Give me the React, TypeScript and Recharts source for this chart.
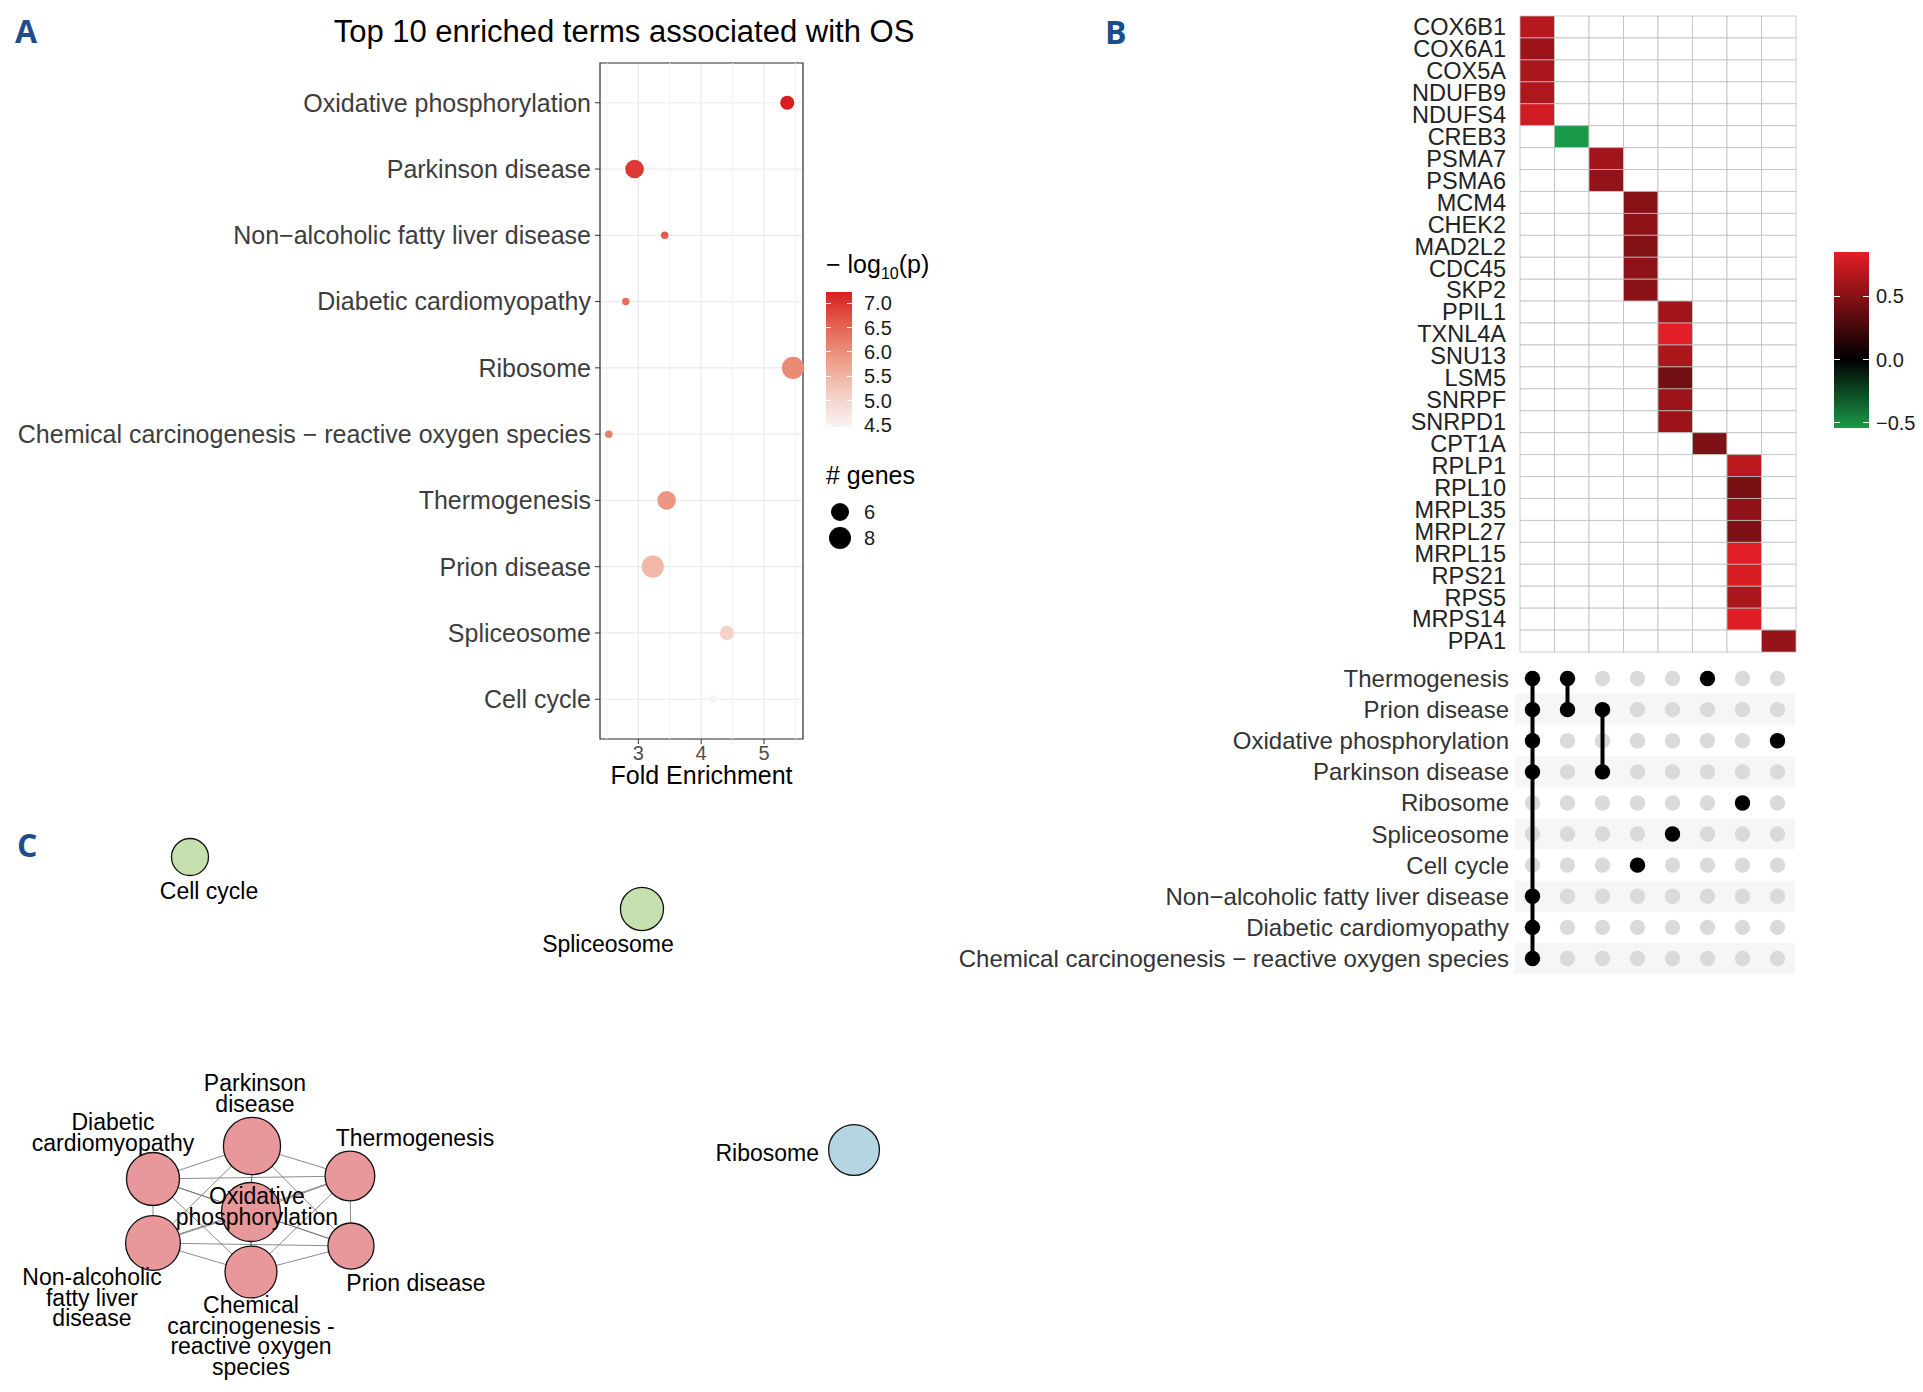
import React from 'react'
import {
  ScatterChart,
  Scatter,
  BarChart,
  Bar,
  Cell,
  XAxis,
  YAxis,
  ZAxis,
  CartesianGrid,
  ReferenceLine,
  ReferenceArea,
} from 'recharts'

const FONT = '"Liberation Sans", Arial, Helvetica, sans-serif'

// ---------- A: enrichment dot plot ----------
const terms = [
  'Oxidative phosphorylation',
  'Parkinson disease',
  'Non−alcoholic fatty liver disease',
  'Diabetic cardiomyopathy',
  'Ribosome',
  'Chemical carcinogenesis − reactive oxygen species',
  'Thermogenesis',
  'Prion disease',
  'Spliceosome',
  'Cell cycle',
]
const foldEnrichment = [5.37, 2.94, 3.42, 2.8, 5.46, 2.53, 3.45, 3.23, 4.41, 4.19]
const geneCount = [6, 7, 5, 5, 8, 5, 7, 8, 6, 5]
const negLog10P = [7.23, 6.95, 6.6, 6.35, 6.05, 6.2, 5.9, 5.45, 5.1, 4.46]
const foldTicks = [3, 4, 5]
const pLegendTicks = [7.0, 6.5, 6.0, 5.5, 5.0, 4.5]
const sizeLegend = [6, 8]

// ---------- B: gene heatmap + set matrix ----------
const genes = [
  'COX6B1', 'COX6A1', 'COX5A', 'NDUFB9', 'NDUFS4', 'CREB3', 'PSMA7', 'PSMA6',
  'MCM4', 'CHEK2', 'MAD2L2', 'CDC45', 'SKP2', 'PPIL1', 'TXNL4A', 'SNU13',
  'LSM5', 'SNRPF', 'SNRPD1', 'CPT1A', 'RPLP1', 'RPL10', 'MRPL35', 'MRPL27',
  'MRPL15', 'RPS21', 'RPS5', 'MRPS14', 'PPA1',
]
const geneSet = [0, 0, 0, 0, 0, 1, 2, 2, 3, 3, 3, 3, 3, 4, 4, 4, 4, 4, 4, 5, 6, 6, 6, 6, 6, 6, 6, 6, 7]
const geneValue = [
  0.68, 0.58, 0.63, 0.65, 0.77, -0.54, 0.6, 0.55, 0.5, 0.53, 0.48, 0.53, 0.52,
  0.6, 0.85, 0.64, 0.42, 0.58, 0.58, 0.47, 0.7, 0.45, 0.53, 0.47, 0.84, 0.8,
  0.63, 0.83, 0.56,
]
const heatTicks = [0.5, 0.0, -0.5]

const upsetTerms = [
  'Thermogenesis',
  'Prion disease',
  'Oxidative phosphorylation',
  'Parkinson disease',
  'Ribosome',
  'Spliceosome',
  'Cell cycle',
  'Non−alcoholic fatty liver disease',
  'Diabetic cardiomyopathy',
  'Chemical carcinogenesis − reactive oxygen species',
]
// terms containing each gene set (same column order as heatmap)
const geneSetMembers = [
  ['Thermogenesis', 'Prion disease', 'Oxidative phosphorylation', 'Parkinson disease',
    'Non−alcoholic fatty liver disease', 'Diabetic cardiomyopathy',
    'Chemical carcinogenesis − reactive oxygen species'],
  ['Thermogenesis', 'Prion disease'],
  ['Prion disease', 'Parkinson disease'],
  ['Cell cycle'],
  ['Spliceosome'],
  ['Thermogenesis'],
  ['Ribosome'],
  ['Oxidative phosphorylation'],
]

// ---------- C: term network ----------
const networkTerms = [
  'Cell cycle',
  'Spliceosome',
  'Ribosome',
  'Parkinson disease',
  'Diabetic cardiomyopathy',
  'Thermogenesis',
  'Oxidative phosphorylation',
  'Non−alcoholic fatty liver disease',
  'Prion disease',
  'Chemical carcinogenesis − reactive oxygen species',
]
const networkLabels = [
  'Cell cycle',
  'Spliceosome',
  'Ribosome',
  'Parkinson\ndisease',
  'Diabetic\ncardiomyopathy',
  'Thermogenesis',
  'Oxidative\nphosphorylation',
  'Non-alcoholic\nfatty liver\ndisease',
  'Prion disease',
  'Chemical\ncarcinogenesis -\nreactive oxygen\nspecies',
]
const layoutX = [0.2065, 0.6978, 0.9283, 0.2739, 0.1663, 0.3804, 0.2728, 0.1663, 0.3815, 0.2728]
const layoutY = [0.0647, 0.1556, 0.5769, 0.5699, 0.6276, 0.6224, 0.6853, 0.7395, 0.7448, 0.7902]
const networkCluster = [1, 1, 2, 0, 0, 0, 0, 0, 0, 0]

// ---------- helpers ----------
const hexRgb = (h: string) => [1, 3, 5].map((i) => parseInt(h.slice(i, i + 2), 16))
const mix = (a: string, b: string, t: number) => {
  const A = hexRgb(a)
  const B = hexRgb(b)
  const k = Math.max(0, Math.min(1, t))
  return `rgb(${A.map((x, i) => Math.round(x + (B[i] - x) * k)).join(',')})`
}
// approximates ggplot's Lab interpolation from near-white to red
const pStops = ['#f7f3f3', '#f4cdc3', '#ec9c87', '#e2634f', '#d81e1e']
const ramp = (stops: string[], t: number) => {
  const k = Math.max(0, Math.min(1, t)) * (stops.length - 1)
  const i = Math.min(stops.length - 2, Math.floor(k))
  return mix(stops[i], stops[i + 1], k - i)
}
const pMin = Math.min(...negLog10P)
const pMax = Math.max(...negLog10P)
const pColor = (v: number) => ramp(pStops, (v - pMin) / (pMax - pMin))
const hMin = Math.min(...geneValue)
const hMax = Math.max(...geneValue)
const heatColor = (v: number) => (v >= 0 ? mix('#000000', '#e41e26', v / hMax) : mix('#000000', '#1a9a48', v / hMin))
const clusterFill = ['#e8989a', '#c5dfae', '#b6d5e2']

const enrichData = terms.map((term, i) => ({
  term,
  row: i,
  fold: foldEnrichment[i],
  genes: geneCount[i],
  logp: negLog10P[i],
}))

const heatRows = genes.map((gene) => {
  const r: any = { gene }
  geneSetMembers.forEach((_, k) => (r['c' + k] = 1))
  return r
})

const upsetGrid = upsetTerms.flatMap((_, r) => geneSetMembers.map((__, c) => ({ row: r, set: c })))
const upsetCols = geneSetMembers.map((m, c) =>
  m.map((t) => ({ row: upsetTerms.indexOf(t), set: c })).sort((a, b) => a.row - b.row)
)

const nodes = networkTerms.map((term, i) => ({
  term,
  x: layoutX[i],
  y: layoutY[i],
  logp: negLog10P[terms.indexOf(term)],
  cluster: networkCluster[i],
  label: networkLabels[i],
}))
const edges: [number, number][] = []
networkTerms.forEach((a, i) =>
  networkTerms.forEach((b, j) => {
    if (j > i && geneSetMembers.some((m) => m.includes(a) && m.includes(b))) edges.push([i, j])
  })
)

// label offset (px) from node centre, text anchor
const labelPlacement: Record<string, [number, number, string]> = {
  'Cell cycle': [19, 34, 'middle'],
  Spliceosome: [-34, 35, 'middle'],
  Ribosome: [-35, 3, 'end'],
  'Parkinson disease': [3, -63, 'middle'],
  'Diabetic cardiomyopathy': [-40, -57, 'middle'],
  Thermogenesis: [65, -38, 'middle'],
  'Oxidative phosphorylation': [6, -16, 'middle'],
  'Non−alcoholic fatty liver disease': [-61, 34, 'middle'],
  'Prion disease': [65, 37, 'middle'],
  'Chemical carcinogenesis − reactive oxygen species': [0, 33, 'middle'],
}

const dot = (r: number, fill: string) => (p: any) => <circle cx={p.cx} cy={p.cy} r={r} fill={fill} />
const none = () => <g />

const NodeLabel = (p: any) => {
  const [dx, dy, anchor] = labelPlacement[p.payload.term]
  const lines = p.payload.label.split('\n')
  return (
    <text x={p.cx + dx} y={p.cy + dy} textAnchor={anchor as any} fontSize={23} fontFamily={FONT} fill="#000" dominantBaseline="central">
      {lines.map((l: string, k: number) => (
        <tspan key={k} x={p.cx + dx} dy={k === 0 ? 0 : 20.7}>
          {l}
        </tspan>
      ))}
    </text>
  )
}

const letter = (t: string, left: number, top: number) => (
  <div style={{ position: 'absolute', left, top, fontSize: 32, fontWeight: 700, color: '#1d4c89', fontFamily: '"Open Sans", sans-serif', lineHeight: '32px' }}>
    {t}
  </div>
)

const abs = (left: number, top: number): React.CSSProperties => ({ position: 'absolute', left, top })

export default function App() {
  const pBarTop = 292
  const pBarH = 135
  const hBarTop = 252
  const hBarH = 176
  return (
    <div style={{ position: 'absolute', left: 0, top: 0, width: 1923, height: 1392, background: '#fff', fontFamily: FONT, overflow: 'hidden' }}>
      {letter('A', 15, 15)}
      {letter('B', 1105, 16)}
      {letter('C', 17, 829)}

      <div style={{ ...abs(324, 14), width: 600, textAlign: 'center', fontSize: 31, lineHeight: '36px', color: '#000' }}>
        Top 10 enriched terms associated with OS
      </div>

      {/* A: dot plot */}
      <div style={abs(0, 0)}>
        <ScatterChart width={900} height={800} margin={{ top: 63, right: 97, bottom: 5, left: 0 }}>
          <CartesianGrid stroke="#ebebeb" strokeWidth={1.2} />
          {[2.5, 3.5, 4.5, 5.5].map((v) => (
            <ReferenceLine key={v} x={v} stroke="#f3f3f3" strokeWidth={1} />
          ))}
          <XAxis
            type="number"
            dataKey="fold"
            domain={[2.39, 5.62]}
            ticks={foldTicks}
            height={56}
            tickSize={5}
            tickLine={{ stroke: '#333' }}
            axisLine={false}
            tick={{ fontSize: 20, fill: '#4d4d4d', fontFamily: FONT }}
            label={{ value: 'Fold Enrichment', position: 'insideBottom', offset: 11, fill: '#000', fontSize: 25, fontFamily: FONT }}
          />
          <YAxis
            type="number"
            dataKey="row"
            domain={[-0.6, 9.6]}
            reversed
            ticks={terms.map((_, i) => i)}
            interval={0}
            tickFormatter={(i: number) => terms[i]}
            width={600}
            tickSize={5}
            tickMargin={4}
            tickLine={{ stroke: '#333' }}
            axisLine={false}
            tick={{ fontSize: 25, fill: '#3d3d3d', fontFamily: FONT }}
          />
          <ZAxis type="number" dataKey="genes" domain={[4.7, 8]} range={[10, 385]} />
          <ReferenceArea x1={2.39} x2={5.62} y1={-0.6} y2={9.6} fill="none" fillOpacity={0} stroke="#333" strokeWidth={1.2} ifOverflow="visible" />
          <Scatter data={enrichData} isAnimationActive={false}>
            {enrichData.map((d, i) => (
              <Cell key={i} fill={pColor(d.logp)} />
            ))}
          </Scatter>
        </ScatterChart>
      </div>

      {/* A: legends */}
      <div style={{ ...abs(826, 248), fontSize: 25, lineHeight: '32px', color: '#000' }}>
        − log<sub style={{ fontSize: 16 }}>10</sub>(p)
      </div>
      <div
        style={{
          ...abs(826, pBarTop),
          width: 26,
          height: pBarH,
          background: `linear-gradient(to top, ${pStops.join(', ')})`,
        }}
      />
      {pLegendTicks.map((v) => {
        const y = pBarTop + ((pMax - v) / (pMax - pMin)) * pBarH
        return (
          <React.Fragment key={v}>
            <div style={{ ...abs(826, y - 0.5), width: 5, height: 1, background: '#fff' }} />
            <div style={{ ...abs(847, y - 0.5), width: 5, height: 1, background: '#fff' }} />
            <div style={{ ...abs(864, y - 12), fontSize: 20, lineHeight: '24px', color: '#1a1a1a' }}>{v.toFixed(1)}</div>
          </React.Fragment>
        )
      })}
      <div style={{ ...abs(826, 459), fontSize: 25, lineHeight: '32px', color: '#000' }}># genes</div>
      {sizeLegend.map((g, k) => {
        const r = g === 6 ? 9 : 11
        const y = 512 + k * 26
        return (
          <React.Fragment key={g}>
            <div style={{ ...abs(840 - r, y - r), width: 2 * r, height: 2 * r, borderRadius: '50%', background: '#000' }} />
            <div style={{ ...abs(864, y - 12), fontSize: 20, lineHeight: '24px', color: '#1a1a1a' }}>{g}</div>
          </React.Fragment>
        )
      })}

      {/* B: heatmap */}
      <div style={abs(1300, 0)}>
        <BarChart layout="vertical" width={520} height={670} data={heatRows} margin={{ top: 16, right: 24, bottom: 18, left: 0 }} barCategoryGap={0} barGap={0}>
          <XAxis type="number" domain={[0, geneSetMembers.length]} hide />
          <YAxis
            type="category"
            dataKey="gene"
            width={220}
            tickLine={false}
            axisLine={false}
            tickSize={6}
            tickMargin={8}
            interval={0}
            tick={{ fontSize: 23.5, fill: '#222', fontFamily: FONT }}
          />
          {geneSetMembers.map((_, k) => (
            <Bar key={k} dataKey={'c' + k} stackId="h" isAnimationActive={false} stroke="#bdbdbd" strokeWidth={0.8}>
              {genes.map((g, i) => (
                <Cell key={g} fill={geneSet[i] === k ? heatColor(geneValue[i]) : '#ffffff'} />
              ))}
            </Bar>
          ))}
        </BarChart>
      </div>

      {/* B: heat colour bar */}
      <div
        style={{
          ...abs(1834, hBarTop),
          width: 35,
          height: hBarH,
          background: `linear-gradient(to bottom, ${heatColor(hMax)} 0%, #000 ${(hMax / (hMax - hMin)) * 100}%, ${heatColor(hMin)} 100%)`,
        }}
      />
      {heatTicks.map((v) => {
        const y = hBarTop + ((hMax - v) / (hMax - hMin)) * hBarH
        return (
          <React.Fragment key={v}>
            <div style={{ ...abs(1834, y - 0.5), width: 6, height: 1, background: '#fff' }} />
            <div style={{ ...abs(1863, y - 0.5), width: 6, height: 1, background: '#fff' }} />
            <div style={{ ...abs(1876, y - 12), fontSize: 20, lineHeight: '24px', color: '#1a1a1a' }}>
              {v < 0 ? '−' + Math.abs(v).toFixed(1) : v.toFixed(1)}
            </div>
          </React.Fragment>
        )
      })}

      {/* B: set membership matrix */}
      <div style={abs(900, 640)}>
        <ScatterChart width={920} height={360} margin={{ top: 23, right: 25, bottom: 26, left: 0 }}>
          <XAxis type="number" dataKey="set" domain={[-0.5, geneSetMembers.length - 0.5]} hide />
          <YAxis
            type="number"
            dataKey="row"
            domain={[-0.5, upsetTerms.length - 0.5]}
            reversed
            ticks={upsetTerms.map((_, i) => i)}
            interval={0}
            tickFormatter={(i: number) => upsetTerms[i]}
            width={615}
            tickLine={false}
            axisLine={false}
            tickSize={6}
            tickMargin={0}
            tick={{ fontSize: 24, fill: '#333', fontFamily: FONT }}
          />
          {upsetTerms.map((_, i) =>
            i % 2 === 1 ? (
              <ReferenceArea key={i} x1={-0.5} x2={geneSetMembers.length - 0.5} y1={i - 0.5} y2={i + 0.5} fill="#f6f6f6" fillOpacity={1} stroke="none" />
            ) : null
          )}
          <Scatter data={upsetGrid} shape={dot(7.7, '#dadada')} isAnimationActive={false} />
          {upsetCols.map((col, c) =>
            col.length > 1 ? (
              <Scatter key={c} data={col} line={{ stroke: '#000', strokeWidth: 4 }} shape={none} isAnimationActive={false} />
            ) : null
          )}
          <Scatter data={upsetCols.flat()} shape={dot(7.7, '#000')} isAnimationActive={false} />
        </ScatterChart>
      </div>

      {/* C: network */}
      <div style={abs(0, 820)}>
        <ScatterChart width={920} height={572} margin={{ top: 0, right: 0, bottom: 0, left: 0 }}>
          <XAxis type="number" dataKey="x" domain={[0, 1]} hide />
          <YAxis type="number" dataKey="y" domain={[0, 1]} reversed hide />
          <ZAxis type="number" dataKey="logp" domain={[pMin, pMax]} range={[1075, 2734]} />
          {edges.map(([a, b]) => (
            <Scatter key={a + '-' + b} data={[nodes[a], nodes[b]]} line={{ stroke: '#6e6e6e', strokeWidth: 0.8 }} shape={none} isAnimationActive={false} />
          ))}
          <Scatter data={nodes} stroke="#111" strokeWidth={1.3} isAnimationActive={false}>
            {nodes.map((n, i) => (
              <Cell key={i} fill={clusterFill[n.cluster]} />
            ))}
          </Scatter>
          <Scatter data={nodes} shape={NodeLabel} isAnimationActive={false} />
        </ScatterChart>
      </div>
    </div>
  )
}
